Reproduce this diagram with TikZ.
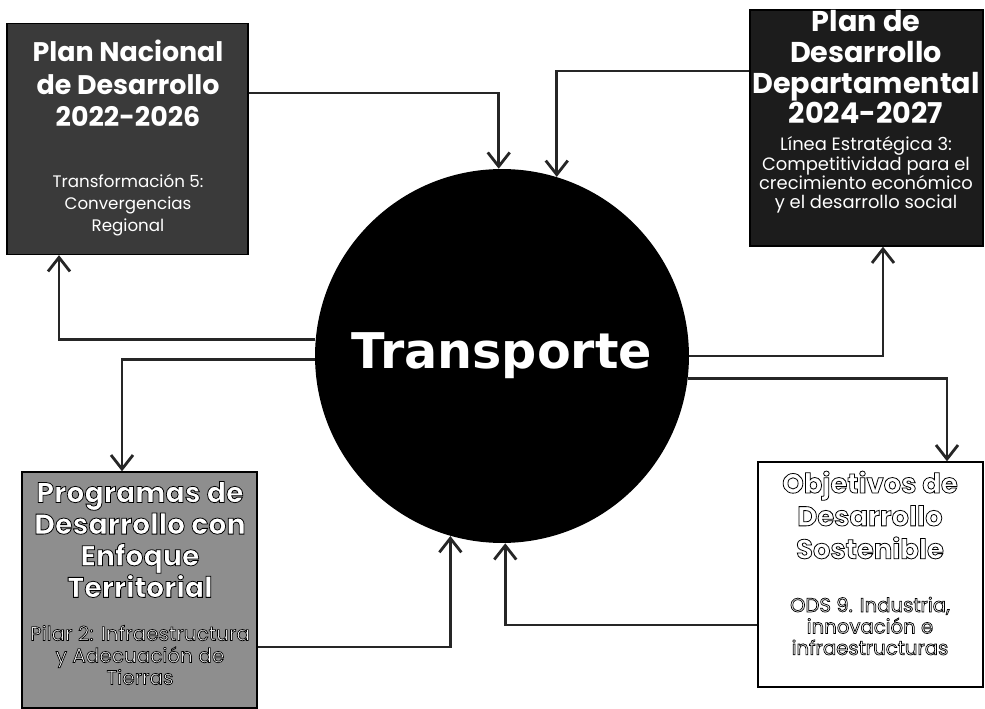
\documentclass[tikz,border=0pt]{standalone}
\usepackage{fontspec}
\setmainfont{Poppins}
\newfontfamily\hubfont{DejaVu Sans}
\usetikzlibrary{arrows.meta, positioning}

\definecolor{boxdark}{HTML}{3A3A3A}
\definecolor{boxblack}{HTML}{1C1C1C}
\definecolor{boxgray}{HTML}{8E8E8E}
\definecolor{linegray}{HTML}{262626}

% white letters with a thin black rim
\newcommand{\outl}[2][0.45]{\special{pdf:literal q 2 Tr #1 w 0 G}#2\special{pdf:literal Q}}

\begin{document}
\begin{tikzpicture}[
    x=0.02cm, y=-0.02cm,
    panel/.style={rectangle, draw=black, line width=0.8pt, inner sep=0pt},
    hubnode/.style={circle, fill=black, minimum size=7.48cm, inner sep=0pt, text=white, font=\hubfont\bfseries\fontsize{28}{32}\selectfont},
    ttl/.style={align=center, text=white, font=\bfseries\fontsize{15.3}{18.5}\selectfont},
    subtxt/.style={align=center, text=white, font=\fontsize{9.5}{12.4}\selectfont},
    link/.style={-{Straight Barb[length=2.8mm, width=4.4mm]}, line width=1.6pt, draw=linegray}
]
\useasboundingbox (0,0) rectangle (985,709);

% Boxes
\node[panel, fill=boxdark, minimum width=4.82cm, minimum height=4.62cm] (nw) at (127.5,139) {};
\node[panel, fill=boxblack, minimum width=4.66cm, minimum height=4.72cm] (ne) at (866.5,128) {};
\node[panel, fill=boxgray, minimum width=4.70cm, minimum height=4.72cm] (sw) at (139.5,590) {};
\node[panel, fill=white, minimum width=4.50cm, minimum height=4.50cm] (se) at (870.5,574.5) {};

% Centre
\node[hubnode] (hub) at (502,356) {Transporte};

% Box texts
\node[ttl] (nwT) at (128,83.5) {Plan Nacional\\de Desarrollo\\2022-2026};
\node[subtxt] (nwS) at (128,205) {Transformación 5:\\Convergencias\\Regional};

\node[ttl, font=\bfseries\fontsize{16.3}{17.6}\selectfont] (neT) at (866,67) {Plan de\\Desarrollo\\Departamental\\2024-2027};
\node[subtxt, font=\fontsize{10.2}{10.9}\selectfont] (neS) at (866,175) {Línea Estratégica 3:\\Competitividad para el\\crecimiento económico\\y el desarrollo social};

\node[ttl, font=\bfseries\fontsize{16.2}{18}\selectfont] (swT) at (140,539.5) {\outl{Programas de\\Desarrollo con\\Enfoque\\Territorial}};
\node[subtxt, font=\fontsize{11.4}{12.5}\selectfont] (swS) at (140,655) {\outl[0.4]{Pilar 2: Infraestructura\\y Adecuación de\\Tierras}};

\node[ttl, font=\bfseries\fontsize{15.6}{18.7}\selectfont] (seT) at (870,515) {\outl{Objetivos de\\Desarrollo\\Sostenible}};
\node[subtxt, font=\fontsize{11.2}{12.2}\selectfont] (seS) at (870,626) {\outl[0.4]{ODS 9. Industria,\\innovación e\\infraestructuras}};

% Links into the centre
\draw[link] (nw.east |- 0,93) -| (hub.91);
\draw[link] (ne.west |- 0,71) -| (hub.73);
\draw[link] (sw.east |- 0,647) -| (hub.254);
\draw[link] (se.west |- 0,625) -| (hub.271);

% Links out of the centre
\draw[link] (hub.175) -| (nw.south -| 59,0);
\draw[link] (hub.181.5) -| (sw.north -| 122,0);
\draw[link] (hub.0) -| (ne.south -| 883,0);
\draw[link] (hub.353.6) -| (se.north -| 947,0);
\end{tikzpicture}
\end{document}
